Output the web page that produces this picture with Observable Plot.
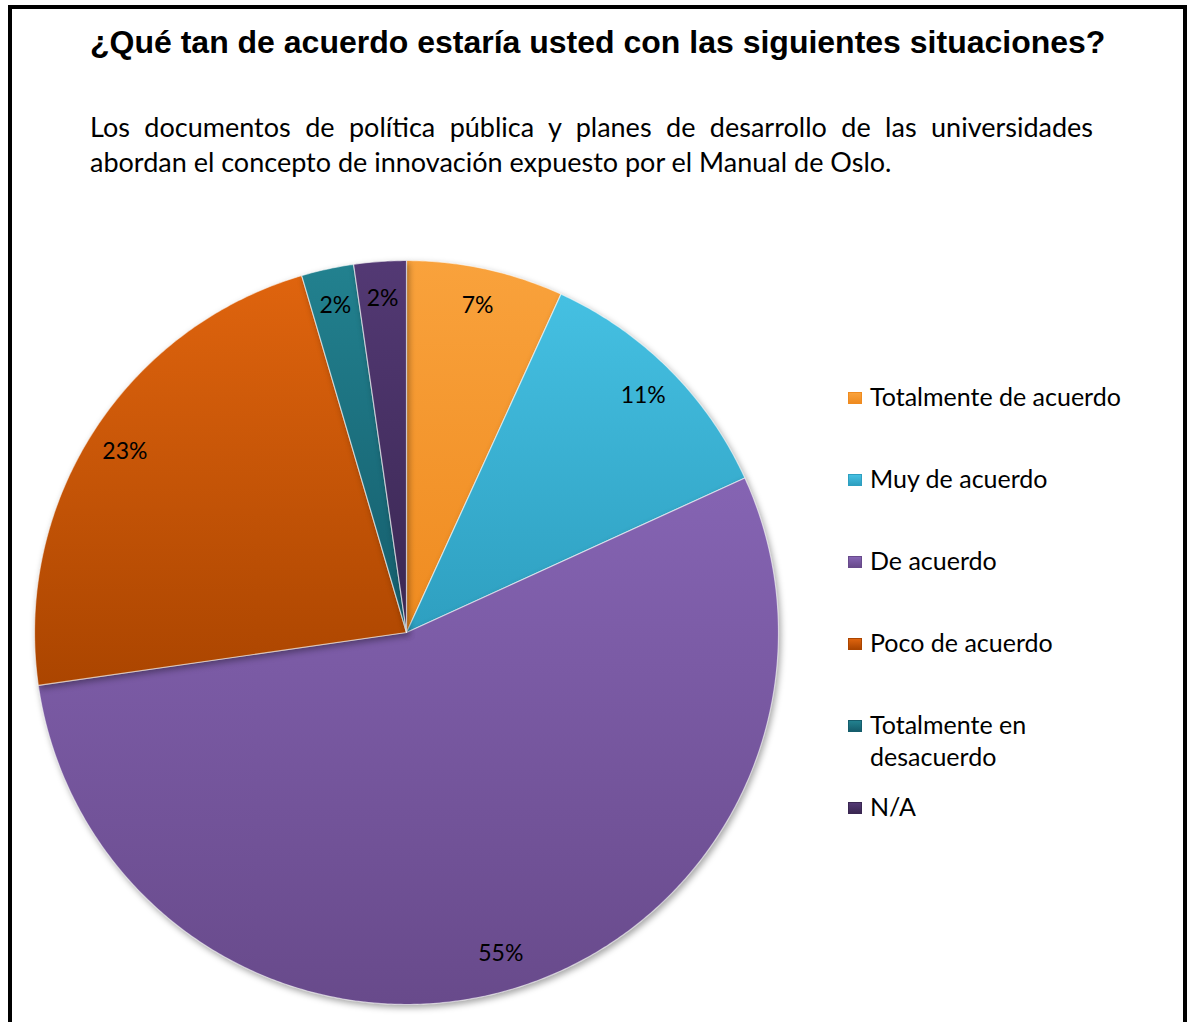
<!DOCTYPE html>
<html>
<head>
<meta charset="utf-8">
<script src="https://cdn.jsdelivr.net/npm/d3@7"></script>
<script src="https://cdn.jsdelivr.net/npm/@observablehq/plot@0.6"></script>
<style>
  html, body { margin: 0; padding: 0; background: #fff; width: 1190px; height: 1022px; overflow: hidden; }
  #frame { position: absolute; left: 8px; top: 5px; width: 1179px; height: 1100px; border: 4px solid #000; border-bottom: none; box-sizing: border-box; }
  #title { position: absolute; left: 90px; top: 26px; font: bold 32px "Liberation Sans", Arial, sans-serif; line-height: 32px; white-space: nowrap; color: #000; }
  .sub { position: absolute; left: 90px; width: 1003px; font: 27px Lato, sans-serif; line-height: 35px; color: #000; white-space: nowrap; }
  #sub1 { top: 109px; text-align: justify; text-align-last: justify; white-space: normal; }
  #sub2 { top: 144px; }
  #chart { position: absolute; left: 0; top: 230px; }
  #chart svg g[aria-label="line"] { filter: drop-shadow(2px 3px 3px rgba(0,0,0,0.35)); }
  .leg { position: absolute; left: 848px; font: 25px Lato, sans-serif; line-height: 32px; color: #000; }
  .leg .sw { position: absolute; left: 0; top: 12px; width: 14px; height: 12px; box-sizing: border-box; }
  .leg .tx { position: absolute; left: 22px; top: 0; white-space: nowrap; }
</style>
</head>
<body>
<div id="frame"></div>
<div id="title">¿Qué tan de acuerdo estaría usted con las siguientes situaciones?</div>
<div class="sub" id="sub1">Los documentos de política pública y planes de desarrollo de las universidades</div>
<div class="sub" id="sub2">abordan el concepto de innovación expuesto por el Manual de Oslo.</div>
<div id="chart"></div>
<div id="legend"></div>
<script>
// ---- data ----
const categories = ["Totalmente de acuerdo", "Muy de acuerdo", "De acuerdo", "Poco de acuerdo", "Totalmente en desacuerdo", "N/A"];
const legendLines = [["Totalmente de acuerdo"], ["Muy de acuerdo"], ["De acuerdo"], ["Poco de acuerdo"], ["Totalmente en", "desacuerdo"], ["N/A"]];
const counts = [3, 5, 24, 10, 1, 1];

// ---- styles ----
const colorTop = ["#f9a23c", "#45c0e2", "#8564b3", "#df640e", "#22818f", "#533974"];
const colorBottom = ["#ef8b20", "#2e9fc0", "#684a8b", "#ab4500", "#155d6c", "#3a2752"];
const legendTops = [380, 462, 544, 626, 708, 790];

// ---- layout ----
const W = 820, H = 792, R = 372, CX = 406, CY = 402;

const total = d3.sum(counts);
const arcs = d3.pie().sort(null).value(d => d)(counts);

const slices = arcs.map((a, i) => {
  const pts = [{x: 0, y: 0}];
  const n = Math.max(4, Math.ceil((a.endAngle - a.startAngle) / (Math.PI / 360)));
  for (let k = 0; k <= n; k++) {
    const t = a.startAngle + (a.endAngle - a.startAngle) * k / n;
    pts.push({x: Math.sin(t), y: Math.cos(t)});
  }
  pts.push({x: 0, y: 0});
  return pts;
});

const labelData = arcs.map((a, i) => {
  const m = (a.startAngle + a.endAngle) / 2;
  return {x: 0.9 * Math.sin(m), y: 0.9 * Math.cos(m), label: Math.round(counts[i] / total * 100) + "%"};
});

const defsMark = () => {
  const ns = "http://www.w3.org/2000/svg";
  const defs = document.createElementNS(ns, "defs");
  colorTop.forEach((c, i) => {
    const g = document.createElementNS(ns, "linearGradient");
    g.setAttribute("id", "g" + i);
    g.setAttribute("x1", "0"); g.setAttribute("y1", "0");
    g.setAttribute("x2", "0"); g.setAttribute("y2", "1");
    [[0, c], [1, colorBottom[i]]].forEach(([o, col]) => {
      const s = document.createElementNS(ns, "stop");
      s.setAttribute("offset", o);
      s.setAttribute("stop-color", col);
      g.appendChild(s);
    });
    defs.appendChild(g);
  });
  return defs;
};

const marks = [defsMark];
slices.forEach((pts, i) => {
  marks.push(Plot.line(pts, {x: "x", y: "y", fill: `url(#g${i})`, stroke: "rgba(255,255,255,0.6)", strokeWidth: 1.2, curve: "linear"}));
});
marks.push(Plot.text(labelData, {x: "x", y: "y", text: "label", fontSize: 23, fontFamily: "Lato", fill: "#000"}));

const chart = Plot.plot({
  width: W, height: H, margin: 0,
  x: {domain: [-CX / R, (W - CX) / R], axis: null},
  y: {domain: [-(H - CY) / R, CY / R], axis: null},
  style: {background: "transparent", overflow: "visible"},
  marks
});
document.getElementById("chart").appendChild(chart);

// ---- legend ----
const leg = document.getElementById("legend");
categories.forEach((c, i) => {
  const item = document.createElement("div");
  item.className = "leg";
  item.style.top = legendTops[i] + "px";
  const sw = document.createElement("div");
  sw.className = "sw";
  sw.style.background = `linear-gradient(${colorTop[i]}, ${colorBottom[i]})`;
  sw.style.border = `1px solid ${colorBottom[i]}`;
  const tx = document.createElement("div");
  tx.className = "tx";
  tx.innerHTML = legendLines[i].join("<br>");
  item.appendChild(sw);
  item.appendChild(tx);
  leg.appendChild(item);
});
</script>
</body>
</html>
